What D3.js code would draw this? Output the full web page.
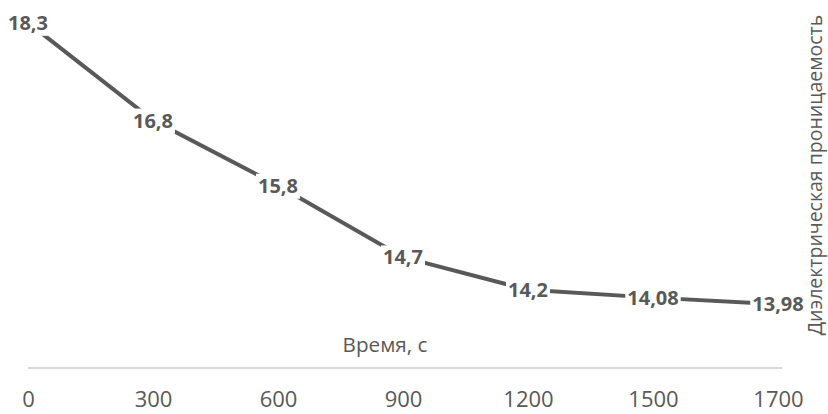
<!DOCTYPE html>
<html>
<head>
<meta charset="utf-8">
<script src="https://cdn.jsdelivr.net/npm/d3@7/dist/d3.min.js"></script>
<style>
  html, body { margin: 0; padding: 0; background: #fff; }
  svg { display: block; font-family: "Open Sans", sans-serif; }
</style>
</head>
<body>
<svg id="chart" width="828" height="414"></svg>
<script>
// Time points (s) and measured dielectric permittivity
const timeLabels = ["0", "300", "600", "900", "1200", "1500", "1700"];
const permittivity = [18.3, 16.8, 15.8, 14.7, 14.2, 14.08, 13.98];
const valueLabels = ["18,3", "16,8", "15,8", "14,7", "14,2", "14,08", "13,98"];
const yDomain = [13, 18.5];

const svg = d3.select("#chart");
const ink = "#595959";

const x = d3.scalePoint().domain(timeLabels).range([28, 778]);
const y = d3.scaleLinear().domain(yDomain).range([368, 9.6]);

// Category axis along the bottom of the plot
const axis = svg.append("g")
  .attr("transform", `translate(0,${y(yDomain[0])})`)
  .call(d3.axisBottom(x).tickSize(0).tickPadding(23.8));
axis.select(".domain").attr("d", "M28,0H782").attr("stroke", "#d9d9d9").attr("stroke-width", 2);
axis.selectAll(".tick text")
  .attr("fill", ink)
  .style("font-family", "'Open Sans', sans-serif")
  .style("font-size", "22px");

// Axis titles
svg.append("text")
  .attr("x", 385).attr("y", 352)
  .attr("text-anchor", "middle")
  .attr("fill", ink)
  .style("font-size", "20.7px")
  .text("Время, с");

svg.append("text")
  .attr("transform", "translate(822,175) rotate(-90)")
  .attr("text-anchor", "middle")
  .attr("fill", ink)
  .style("font-size", "19.5px")
  .text("Диэлектрическая проницаемость");

// Series line
const pts = timeLabels.map((t, i) => ({ t, v: permittivity[i], label: valueLabels[i] }));
svg.append("path")
  .datum(pts)
  .attr("fill", "none")
  .attr("stroke", ink)
  .attr("stroke-width", 4)
  .attr("d", d3.line().x(d => x(d.t)).y(d => y(d.v)));

// Data labels centred on each point, on a white box
const lbl = svg.append("g").selectAll("g").data(pts).join("g")
  .attr("transform", d => `translate(${x(d.t)},${y(d.v)})`);
const txt = lbl.append("text")
  .attr("text-anchor", "middle")
  .attr("dy", "0.36em")
  .attr("fill", ink)
  .style("font-weight", "bold")
  .style("font-size", "20px")
  .text(d => d.label);
txt.each(function () {
  const b = this.getBBox();
  d3.select(this.parentNode).insert("rect", "text")
    .attr("x", b.x - 2).attr("y", b.y + 2)
    .attr("width", b.width + 4).attr("height", b.height - 2)
    .attr("fill", "#fff");
});
</script>
</body>
</html>
